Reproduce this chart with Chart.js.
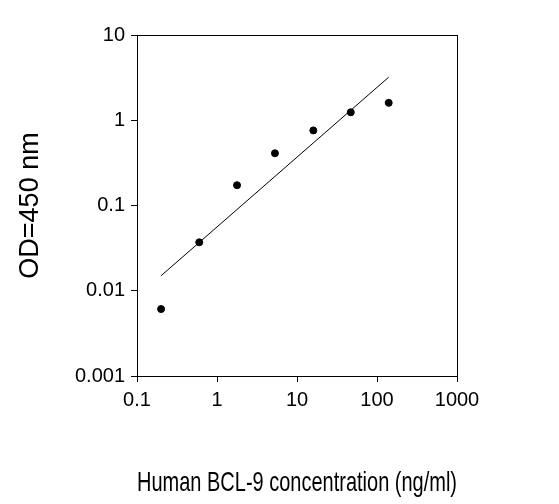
<!DOCTYPE html>
<html>
<head>
<meta charset="utf-8">
<script src="https://cdn.jsdelivr.net/npm/chart.js@4/dist/chart.umd.min.js"></script>
<style>
  html, body { margin: 0; padding: 0; background: #fff; }
  #wrap { width: 559px; height: 504px; }
</style>
</head>
<body>
<div id="wrap"><canvas id="c" width="559" height="504"></canvas></div>
<script>
// data
const concentrations = [0.2, 0.6, 1.78, 5.3, 16, 47, 140];
const odValues = [0.0061, 0.037, 0.173, 0.41, 0.76, 1.24, 1.6];
const fitX = [0.2, 140];
const fitY = [0.015, 3.2];
const xTicks = [0.1, 1, 10, 100, 1000];
const yTicks = [0.001, 0.01, 0.1, 1, 10];
const xTickLabels = ["0.1", "1", "10", "100", "1000"];
const yTickLabels = ["0.001", "0.01", "0.1", "1", "10"];

const FONT = "'Liberation Sans', Arial, sans-serif";

// frame around the plot area
const boxPlugin = {
  id: "box",
  afterDraw(chart) {
    const a = chart.chartArea, ctx = chart.ctx;
    ctx.save();
    ctx.strokeStyle = "#000";
    ctx.lineWidth = 1;
    ctx.strokeRect(a.left + 0.5, a.top + 0.5, a.right - a.left, a.bottom - a.top);
    ctx.restore();
  }
};

new Chart(document.getElementById("c"), {
  type: "scatter",
  data: {
    datasets: [
      {
        data: concentrations.map((x, i) => ({ x: x, y: odValues[i] })),
        backgroundColor: "#000",
        borderColor: "#000",
        pointRadius: 3.5
      },
      {
        type: "line",
        data: fitX.map((x, i) => ({ x: x, y: fitY[i] })),
        borderColor: "#000",
        borderWidth: 1,
        pointRadius: 0,
        fill: false
      }
    ]
  },
  plugins: [boxPlugin],
  options: {
    responsive: false,
    animation: false,
    layout: { padding: { top: 35, right: 102, left: 0, bottom: 0 } },
    plugins: { legend: { display: false }, tooltip: { enabled: false } },
    scales: {
      x: {
        type: "logarithmic",
        min: 0.1, max: 1000,
        afterBuildTicks: (s) => { s.ticks = xTicks.map(v => ({ value: v })); },
        afterFit: (s) => { s.height = 128; },
        ticks: {
          color: "#000", font: { family: FONT, size: 20 }, padding: 6,
          maxRotation: 0,
          callback: (v) => xTickLabels[xTicks.indexOf(v)] ?? ""
        },
        grid: { drawOnChartArea: false, color: "#000", tickLength: 6 },
        border: { color: "#000" },
        title: {
          display: true, text: "Human BCL-9 concentration (ng/ml)",
          color: "#000", font: { family: FONT, size: 28 }, padding: { top: 30 }
        }
      },
      y: {
        type: "logarithmic",
        min: 0.001, max: 10,
        afterBuildTicks: (s) => { s.ticks = yTicks.map(v => ({ value: v })); },
        afterFit: (s) => { s.width = 137; },
        ticks: {
          color: "#000", font: { family: FONT, size: 20 }, padding: 6,
          callback: (v) => yTickLabels[yTicks.indexOf(v)] ?? ""
        },
        grid: { drawOnChartArea: false, color: "#000", tickLength: 6 },
        border: { color: "#000" },
        title: {
          display: true, text: "OD=450 nm",
          color: "#000", font: { family: FONT, size: 27 }, padding: { top: 14, bottom: 0 }
        }
      }
    }
  }
});
</script>
</body>
</html>
